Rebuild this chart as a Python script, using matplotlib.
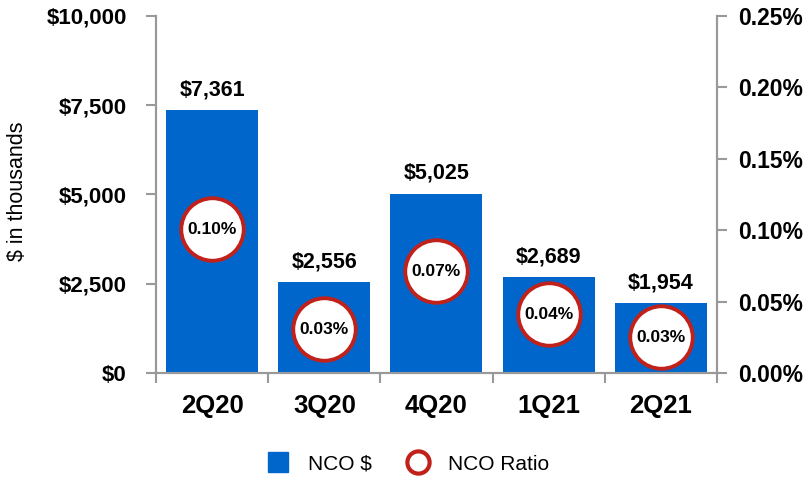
import matplotlib
matplotlib.use("Agg")
import matplotlib.pyplot as plt
from matplotlib.lines import Line2D
import numpy as np

plt.rcParams['font.family'] = ['Liberation Sans', 'DejaVu Sans']

categories = ["2Q20", "3Q20", "4Q20", "1Q21", "2Q21"]
nco_dollars = [7361, 2556, 5025, 2689, 1954]
nco_ratio = [0.1006, 0.0308, 0.0714, 0.0413, 0.0252]
ratio_labels = ["0.10%", "0.03%", "0.07%", "0.04%", "0.03%"]
left_ticks = [0, 2500, 5000, 7500, 10000]
right_ticks = [0.0, 0.05, 0.10, 0.15, 0.20, 0.25]

BLUE = "#0066CC"
RED = "#C0221B"
GREY = "#999999"

fig = plt.figure(figsize=(8.11, 4.8), dpi=100)
ax = fig.add_axes([0.1924, 0.2229, 0.884 - 0.1924, 0.9667 - 0.2229])
ax2 = ax.twinx()

x = np.arange(len(categories))
ax.bar(x, nco_dollars, width=0.82, color=BLUE, zorder=2)
ax.set_xlim(-0.5, len(categories) - 0.5)
ax.set_ylim(0, 10000)
ax.set_yticks(left_ticks)
ax.set_yticklabels([f"${v:,.0f}" for v in left_ticks], fontsize=16, fontweight='bold')
ax.set_ylabel("$ in thousands", fontsize=15.5)
ax.yaxis.set_label_coords(-0.228, 0.51)

for xi, v in zip(x, nco_dollars):
    ax.annotate(f"${v:,.0f}", (xi, v), xytext=(0, 7), textcoords='offset points',
                ha='center', va='bottom', fontsize=15.5, fontweight='bold')

ax.set_xticks(x)
ax.set_xticklabels(categories, fontsize=18.5, fontweight='bold')
ax.tick_params(axis='x', which='major', length=0, pad=15)
ax.set_xticks(np.arange(-0.5, len(categories)), minor=True)
ax.tick_params(axis='x', which='minor', length=7, width=1.5, color=GREY, direction='out')
ax.tick_params(axis='y', length=7, width=1.5, color=GREY, direction='out', pad=14)

ax2.set_ylim(0, 0.25)
ax2.set_yticks(right_ticks)
ax2.set_yticklabels([f"{v:.2f}%" for v in right_ticks], fontsize=16.5, fontweight='bold')
ax2.tick_params(axis='y', length=7, width=1.5, color=GREY, direction='out', pad=8)
ax2.plot(x, nco_ratio, linestyle='none', marker='o', markersize=45,
         markerfacecolor='white', markeredgecolor=RED, markeredgewidth=2.8, zorder=3)
for xi, v, lab in zip(x, nco_ratio, ratio_labels):
    ax2.text(xi, v, lab, ha='center', va='center', fontsize=12.5, fontweight='bold', zorder=4)

for a in (ax, ax2):
    a.spines['top'].set_visible(False)
    for s in ('left', 'right', 'bottom'):
        a.spines[s].set_color(GREY)
        a.spines[s].set_linewidth(1.5)

handles = [
    Line2D([], [], linestyle='none', marker='s', markersize=15, markerfacecolor=BLUE,
           markeredgecolor=BLUE, label="NCO $"),
    Line2D([], [], linestyle='none', marker='o', markersize=16, markerfacecolor='white',
           markeredgecolor=RED, markeredgewidth=3, label="NCO Ratio"),
]
fig.legend(handles=handles, loc='center', bbox_to_anchor=(0.497, 0.033), ncol=2,
           frameon=False, fontsize=15, handletextpad=0.45, columnspacing=1.2)

fig.savefig("out.png", dpi=100)
